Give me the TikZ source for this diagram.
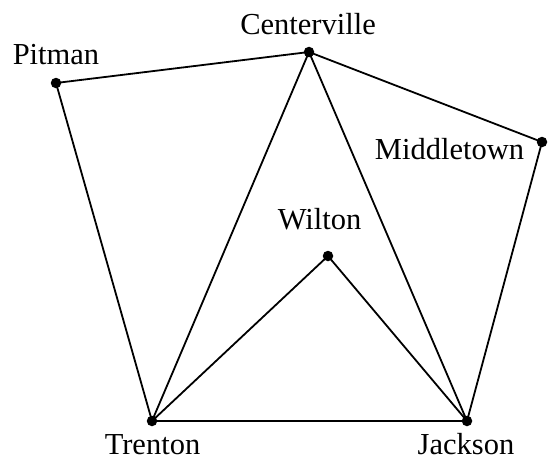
\documentclass[tikz,border=0pt]{standalone}
\usepackage{fontspec}
\setmainfont{Liberation Serif}
\begin{document}
\begin{tikzpicture}[x=1pt,y=-1pt,
  vdot/.style={circle,fill=black,inner sep=0pt,minimum size=10.5pt},
  lbl/.style={anchor=base,inner sep=0pt,text depth=0pt,font=\fontsize{30.5}{36}\selectfont},
  edge/.style={line width=1.8pt}]
\useasboundingbox (0,0) rectangle (548,460);
\node[vdot] (P) at (56,83) {};
\node[vdot] (C) at (309,52) {};
\node[vdot] (M) at (542,142) {};
\node[vdot] (W) at (328,256) {};
\node[vdot] (T) at (152,421) {};
\node[vdot] (J) at (467,421) {};
\node[lbl] (Pl) at (56,64) {Pitman};
\node[lbl] (Cl) at (308,35) {Centerville};
\node[lbl] (Ml) at (449.5,159) {Middletown};
\node[lbl] (Wl) at (319.5,229) {Wilton};
\node[lbl] (Tl) at (152.5,454) {Trenton};
\node[lbl] (Jl) at (466,454) {Jackson};
\draw[edge] (P.center) -- (C.center);
\draw[edge] (P.center) -- (T.center);
\draw[edge] (C.center) -- (T.center);
\draw[edge] (C.center) -- (J.center);
\draw[edge] (C.center) -- (M.center);
\draw[edge] (M.center) -- (J.center);
\draw[edge] (W.center) -- (T.center);
\draw[edge] (W.center) -- (J.center);
\draw[edge] (T.center) -- (J.center);
\end{tikzpicture}
\end{document}
